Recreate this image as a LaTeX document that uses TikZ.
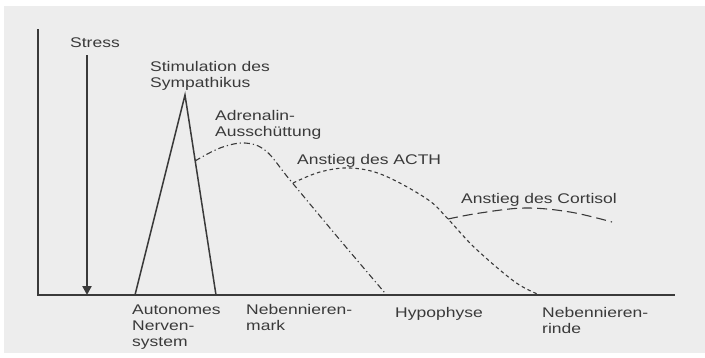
\documentclass[tikz,border=0pt]{standalone}
\usepackage{fontspec}
\setmainfont{Liberation Sans}[FakeStretch=1.25]
\usetikzlibrary{arrows.meta}
\definecolor{scanbg}{HTML}{EDEDED}
\definecolor{ink}{HTML}{3A3A3A}
\tikzset{
  lbl/.style={anchor=base west, inner sep=0pt, align=left, text=ink,
              font=\fontsize{14}{16}\selectfont},
  curve/.style={ink, line width=1.1pt},
}

\begin{document}
\begin{tikzpicture}[x=1pt, y=-1pt]
        \fill[white] (0,0) rectangle (705,357);
        \fill[scanbg] (4,6) rectangle (705,353);
        % axes
        \coordinate (top) at (38,29);
        \coordinate (orig) at (38,295);
        \coordinate (xend) at (675,295);
        \draw[ink, line width=1.3pt] (top) -- (orig) -- (xend);
        % stress
        \node[lbl] (stress) at (70,47) {Stress};
        \coordinate (sa) at (87,55);
        \coordinate (sb) at (87,295);
        \draw[ink, line width=2.4pt, -{Triangle[width=9pt,length=9pt]}] (sa) -- (sb);
        % sympathikus peak
        \coordinate (tl) at (135,295);
        \coordinate (tp) at (185,95);
        \coordinate (tr) at (216,295);
        \draw[ink, line width=1.5pt, line join=miter] (tl) -- (tp) -- (tr);
        % curves
        \draw[curve, dash pattern=on 6pt off 3pt on 1.2pt off 3pt]
            plot[smooth, tension=0.6] coordinates {(195,161) (220,148) (245,143)
                (266,151) (290,180) (340,240) (385,293)};
        \draw[curve, dash pattern=on 3.5pt off 3pt]
            plot[smooth, tension=0.6] coordinates {(293,183) (320,172) (350,168)
                (383,175) (427,199) (448,219) (475,248) (515,282) (540,295)};
        \draw[curve, dash pattern=on 10pt off 5pt]
            plot[smooth, tension=0.6] coordinates {(448,219) (480,213) (525,208)
                (570,212) (612,222)};
        % curve labels (base = last line)
        \node[lbl] (symp) at (150,87) {Stimulation des\\Sympathikus};
        \node[lbl] (adr) at (215,136) {Adrenalin-\\Ausschüttung};
        \node[lbl] (acth) at (297,164) {Anstieg des ACTH};
        \node[lbl] (cort) at (461,203) {Anstieg des Cortisol};
        % organs
        \foreach \n/\x/\y/\t in {ans/132/346/{Autonomes\\Nerven-\\system},
                                 nnm/246/330/{Nebennieren-\\mark},
                                 hyp/395/317/{Hypophyse},
                                 nnr/542/333/{Nebennieren-\\rinde}}{
            \node[lbl] (\n) at (\x,\y) {\t};
        }
    \end{tikzpicture}
\end{document}
